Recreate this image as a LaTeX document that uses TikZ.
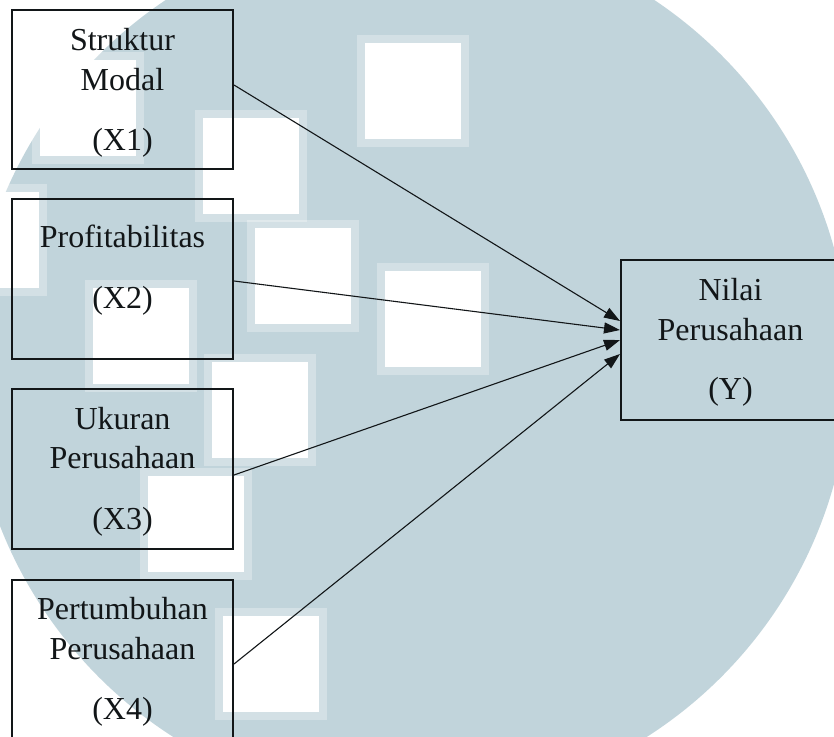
\documentclass[tikz,border=0pt]{standalone}
\usepackage{fontspec}
\setmainfont{Liberation Serif}
\usetikzlibrary{arrows.meta}
\definecolor{wmblue}{RGB}{193,212,219}
\definecolor{ink}{RGB}{18,22,24}
\begin{document}
\begin{tikzpicture}[x=1pt,y=-1pt,
  box/.style={draw=ink,line width=2pt,inner sep=0pt,minimum width=221pt,minimum height=160pt},
  lbl/.style={anchor=base,text=ink,font=\fontsize{32}{40}\selectfont,inner sep=0pt},
  link/.style={draw=ink,line width=1.1pt,-{Triangle[length=16pt,width=11pt]}}]
\useasboundingbox (0,0) rectangle (834,736);
% watermark background
\begin{scope}
  \clip (0,0) rectangle (834,736);
  \fill[white] (0,0) rectangle (834,736);
  \fill[wmblue] (410,366) circle[radius=440pt];
  \foreach \a/\b in {365/43, 203/118, 255/228, 385/271, 93/288, 212/362, 148/476, 223/616, 40/60, -57/192} {
    \fill[white,opacity=0.3] (\a-8,\b-8) rectangle ++(112,112);
    \fill[white] (\a,\b) rectangle ++(96,96);
  }
\end{scope}
% boxes
\node[box,minimum height=159pt] (x1) at (122.5,89.5) {};
\node[box] (x2) at (122.5,279) {};
\node[box] (x3) at (122.5,469) {};
\node[box] (x4) at (122.5,660) {};
\node[box,minimum width=219pt] (y) at (730.5,340) {};
% labels
\node[lbl] (t1a) at (122.5,50) {Struktur};
\node[lbl] (t1b) at (122.5,90) {Modal};
\node[lbl] (t1c) at (122.5,150) {(X1)};
\node[lbl] (t2a) at (122.5,247) {Profitabilitas};
\node[lbl] (t2c) at (122.5,308) {(X2)};
\node[lbl] (t3a) at (122.5,429) {Ukuran};
\node[lbl] (t3b) at (122.5,468) {Perusahaan};
\node[lbl] (t3c) at (122.5,529) {(X3)};
\node[lbl] (t4a) at (122.5,619) {Pertumbuhan};
\node[lbl] (t4b) at (122.5,659) {Perusahaan};
\node[lbl] (t4c) at (122.5,719) {(X4)};
\node[lbl] (tya) at (730.5,300) {Nilai};
\node[lbl] (tyb) at (730.5,340) {Perusahaan};
\node[lbl] (tyc) at (730.5,399) {(Y)};
% connectors
\draw[link] ([yshift=4.5pt]x1.east) -- ([yshift=19pt]y.west);
\draw[link] ([yshift=-2pt]x2.east) -- ([yshift=10pt]y.west);
\draw[link] ([yshift=-6pt]x3.east) -- ([yshift=0pt]y.west);
\draw[link] ([yshift=-4pt]x4.east) -- ([yshift=-14pt]y.west);
\end{tikzpicture}
\end{document}
